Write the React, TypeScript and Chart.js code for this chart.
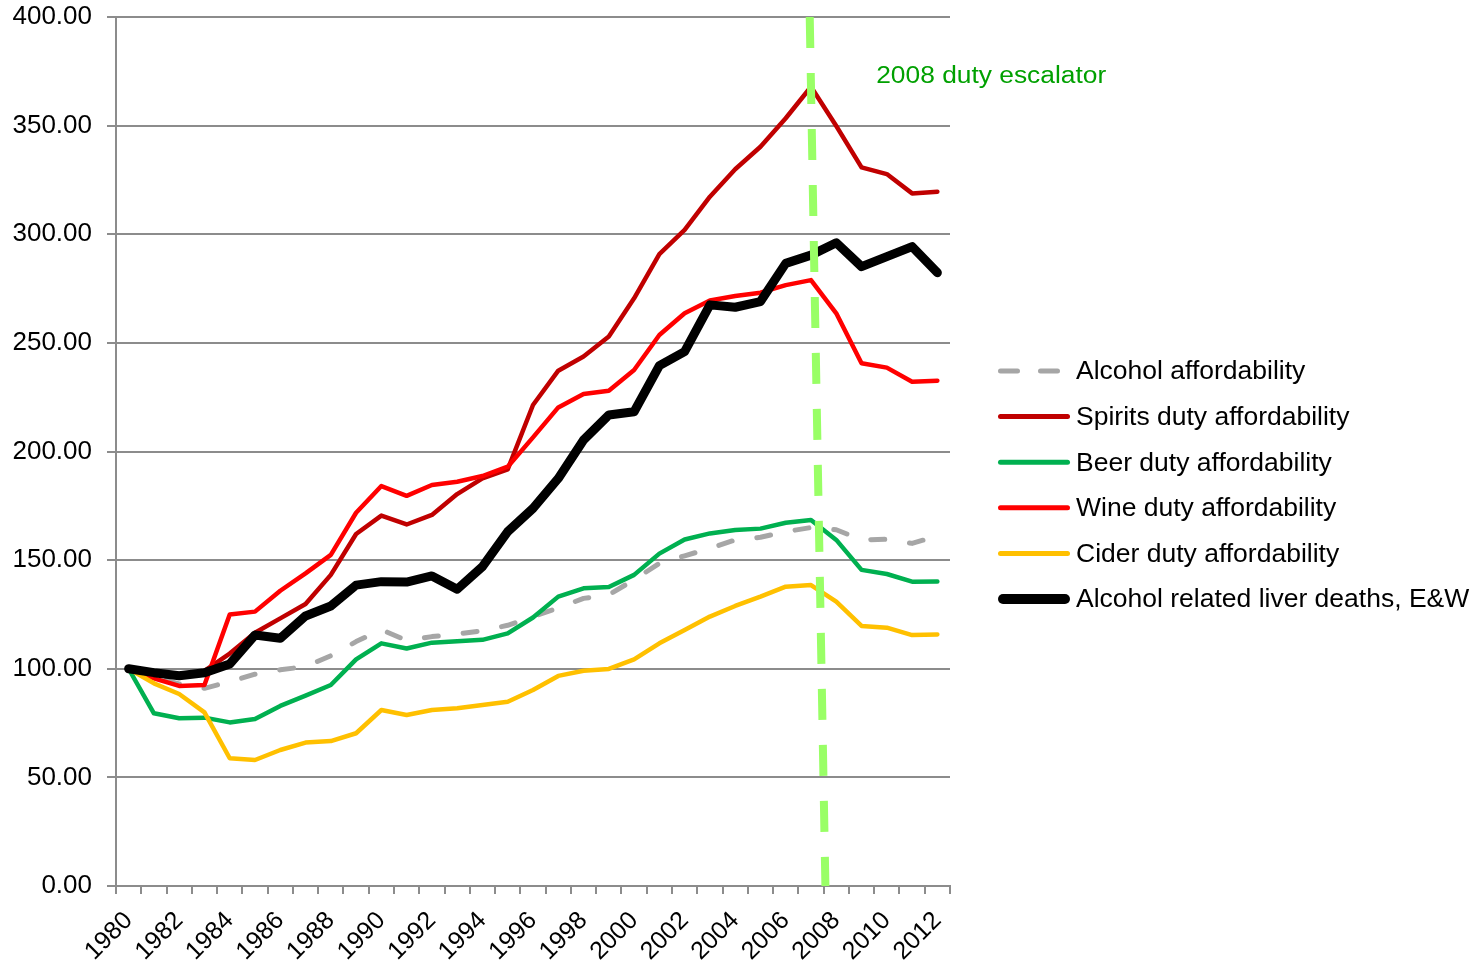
import React, { useEffect, useRef } from 'react';
import { Chart, registerables } from 'chart.js';

Chart.register(...registerables);

// ---------- data ----------
const years = [
  '1980', '1981', '1982', '1983', '1984', '1985', '1986', '1987', '1988', '1989',
  '1990', '1991', '1992', '1993', '1994', '1995', '1996', '1997', '1998', '1999',
  '2000', '2001', '2002', '2003', '2004', '2005', '2006', '2007', '2008', '2009',
  '2010', '2011', '2012',
];

const alcoholAffordability = [
  100, 96, 93, 91, 94, 97.5, 99.5, 101, 106, 112.5,
  118, 113, 114.8, 116, 117.5, 120, 124, 128, 132.4, 134,
  141, 148.5, 152, 155.4, 159.3, 160.5, 163.1, 165, 164, 159.3,
  159.6, 157.7, 161.1,
];

const spiritsDuty = [
  100, 97.5, 96.5, 99, 107, 116.6, 123.2, 129.8, 143.2, 162,
  170.5, 166.4, 170.8, 180.4, 187.6, 191.8, 221.4, 237.2, 243.7, 252.9,
  270.5, 290.9, 302, 317.3, 329.9, 340.3, 353.4, 367.9, 349.8, 330.8,
  327.7, 318.8, 319.6,
];

const beerDuty = [
  100, 79.5, 77.2, 77.5, 75.3, 76.9, 82.9, 87.6, 92.5, 104.3,
  111.7, 109.3, 112, 112.7, 113.3, 116.3, 123.6, 133.2, 137, 137.6,
  143.2, 153, 159.5, 162.3, 163.9, 164.5, 167.2, 168.5, 159.3, 145.5,
  143.6, 140.1, 140.2,
];

const wineDuty = [
  100, 95.6, 92.1, 92.5, 125, 126.3, 135.9, 143.9, 152.4, 171.8,
  184.1, 179.6, 184.6, 186.1, 188.7, 193, 206.5, 220.3, 226.5, 228,
  237.5, 253.6, 263.6, 269.5, 271.6, 273.1, 276.6, 278.9, 263.6, 240.6,
  238.6, 232.1, 232.6,
];

const ciderDuty = [
  100, 93.3, 88.4, 79.9, 58.8, 58, 62.6, 66, 66.7, 70.3,
  81, 78.7, 81, 81.8, 83.3, 84.8, 90.2, 96.7, 99.1, 99.9,
  104.3, 111.7, 117.8, 124, 128.9, 133.2, 137.8, 138.5, 130.9, 119.7,
  118.9, 115.5, 115.8,
];

const liverDeaths = [
  100, 98.2, 96.8, 98.2, 102.2, 115.5, 114, 124.3, 128.9, 138.5,
  140.1, 139.9, 142.7, 136.6, 147, 163.1, 173.8, 187.6, 205.3, 216.8,
  218.3, 239.5, 246, 267.5, 266.4, 269, 286.6, 290.4, 296.1, 285.1,
  289.7, 294.3, 282.3,
];

const yMin = 0;
const yMax = 400;
const yStep = 50;

// annotation: "2008 duty escalator" (positions in scale units)
const escalatorLabel = '2008 duty escalator';
const escalatorTop = { index: 26.95, value: 400 };
const escalatorBottom = { index: 27.57, value: 0 };
const escalatorText = { index: 29.58, value: 372.6 };

// ---------- styles ----------
const FONT = "'Liberation Sans', Arial, Helvetica, sans-serif";
const AXIS_COLOR = '#8c8c8c';

const escalatorPlugin = {
  id: 'escalator',
  afterDatasetsDraw(chart: any) {
    const { ctx, scales } = chart;
    const x = scales.x;
    const y = scales.y;
    ctx.save();
    ctx.strokeStyle = '#99FF66';
    ctx.lineWidth = 8;
    ctx.lineCap = 'butt';
    ctx.setLineDash([31, 25]);
    ctx.beginPath();
    ctx.moveTo(x.getPixelForValue(escalatorTop.index), y.getPixelForValue(escalatorTop.value));
    ctx.lineTo(x.getPixelForValue(escalatorBottom.index), y.getPixelForValue(escalatorBottom.value));
    ctx.stroke();
    ctx.setLineDash([]);

    ctx.font = `23px ${FONT}`;
    ctx.fillStyle = '#00A000';
    ctx.textAlign = 'left';
    ctx.textBaseline = 'middle';
    const w = ctx.measureText(escalatorLabel).width;
    const tx = x.getPixelForValue(escalatorText.index);
    const ty = y.getPixelForValue(escalatorText.value);
    ctx.translate(tx, ty);
    ctx.scale(230 / w, 1);
    ctx.fillText(escalatorLabel, 0, 0);
    ctx.restore();
  },
};

const legendPlugin = {
  id: 'sideLegend',
  afterDraw(chart: any) {
    const { ctx } = chart;
    const left = chart.chartArea.right + 48;
    const top = 371;
    const step = 45.6;
    const lineLen = 72;
    ctx.save();
    chart.data.datasets.forEach((ds: any, i: number) => {
      const cy = top + i * step;
      ctx.strokeStyle = ds.borderColor;
      ctx.lineWidth = ds.legendWidth || ds.borderWidth;
      ctx.lineCap = 'round';
      ctx.setLineDash(ds.legendDash || []);
      ctx.beginPath();
      const inset = ctx.lineWidth / 2;
      ctx.moveTo(left + inset, cy);
      ctx.lineTo(left + lineLen - inset, cy);
      ctx.stroke();
      ctx.setLineDash([]);
      ctx.font = `26.5px ${FONT}`;
      ctx.fillStyle = '#000000';
      ctx.textAlign = 'left';
      ctx.textBaseline = 'middle';
      ctx.fillText(ds.label, left + lineLen + 6, cy + 1);
    });
    ctx.restore();
  },
};

export default function App() {
  const canvasRef = useRef<HTMLCanvasElement | null>(null);

  useEffect(() => {
    if (!canvasRef.current) return;
    const common = {
      pointRadius: 0,
      pointHoverRadius: 0,
      tension: 0,
      fill: false,
      borderJoinStyle: 'round',
      borderCapStyle: 'round',
    };
    const chart = new Chart(canvasRef.current, {
      type: 'line',
      data: {
        labels: years,
        datasets: [
          {
            ...common,
            label: 'Alcohol affordability',
            data: alcoholAffordability,
            borderColor: '#A6A6A6',
            borderWidth: 5,
            borderDash: [14, 25],
            legendDash: [17, 23],
            order: 6,
          },
          {
            ...common,
            label: 'Spirits duty affordability',
            data: spiritsDuty,
            borderColor: '#C00000',
            borderWidth: 4.5,
            legendWidth: 5,
            order: 5,
          },
          {
            ...common,
            label: 'Beer duty affordability',
            data: beerDuty,
            borderColor: '#00B050',
            borderWidth: 4.5,
            legendWidth: 5,
            order: 4,
          },
          {
            ...common,
            label: 'Wine duty affordability',
            data: wineDuty,
            borderColor: '#FF0000',
            borderWidth: 4.5,
            legendWidth: 5,
            order: 3,
          },
          {
            ...common,
            label: 'Cider duty affordability',
            data: ciderDuty,
            borderColor: '#FFC000',
            borderWidth: 4.5,
            legendWidth: 5,
            order: 2,
          },
          {
            ...common,
            label: 'Alcohol related liver deaths, E&W',
            data: liverDeaths,
            borderColor: '#000000',
            borderWidth: 9,
            legendWidth: 10,
            order: 1,
          },
        ] as any,
      },
      options: {
        animation: false,
        responsive: true,
        maintainAspectRatio: false,
        layout: { padding: { left: 0, right: 527, top: 17, bottom: 0 } },
        plugins: {
          legend: { display: false },
          tooltip: { enabled: false },
        },
        scales: {
          x: {
            type: 'category',
            offset: true,
            afterFit: (scale: any) => {
              scale.height = 74;
            },
            grid: {
              display: true,
              drawOnChartArea: false,
              drawTicks: true,
              tickLength: 8,
              offset: true,
              color: AXIS_COLOR,
              lineWidth: 2,
            },
            border: { display: true, color: AXIS_COLOR, width: 2 },
            ticks: {
              autoSkip: false,
              maxRotation: 45,
              minRotation: 45,
              padding: 12,
              color: '#000000',
              font: { family: FONT, size: 25 },
              callback: (_v: any, idx: number) => (idx % 2 === 0 ? years[idx] : ''),
            },
          },
          y: {
            min: yMin,
            max: yMax,
            afterFit: (scale: any) => {
              scale.width = 116;
              scale.paddingTop = 0;
              scale.paddingBottom = 0;
            },
            grid: {
              color: AXIS_COLOR,
              lineWidth: 2,
              drawTicks: true,
              tickLength: 9,
            },
            border: { display: true, color: AXIS_COLOR, width: 2 },
            ticks: {
              stepSize: yStep,
              padding: 15,
              color: '#000000',
              font: { family: FONT, size: 26 },
              callback: (v: any) => Number(v).toFixed(2),
            },
          },
        },
      } as any,
      plugins: [escalatorPlugin, legendPlugin],
    });
    return () => chart.destroy();
  }, []);

  return (
    <div style={{ position: 'absolute', left: 0, top: 0, width: 1477, height: 960, background: '#ffffff' }}>
      <canvas ref={canvasRef} />
    </div>
  );
}
